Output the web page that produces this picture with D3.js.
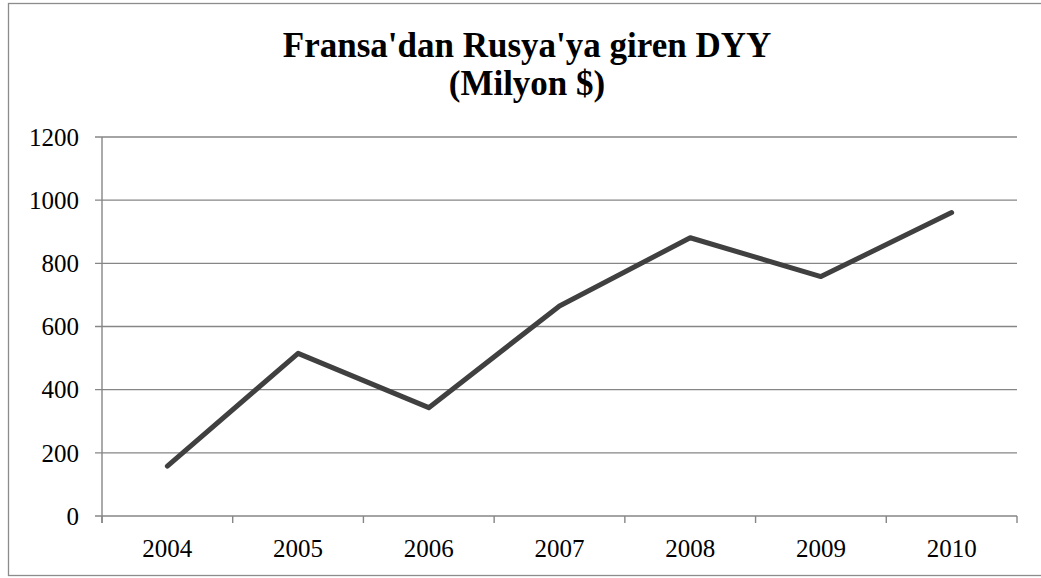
<!DOCTYPE html>
<html lang="tr">
<head>
  <meta charset="UTF-8">
  <title>Fransa'dan Rusya'ya giren DYY</title>
  <script src="https://d3js.org/d3.v7.min.js"></script>
  <style>
    body { margin: 0; background: #fff; overflow: hidden; }
    svg { display: block; }
  </style>
</head>
<body>
<svg width="1041" height="578"></svg>
<script>
const years = ['2004', '2005', '2006', '2007', '2008', '2009', '2010'];
const values = [158, 515, 343, 665, 881, 758, 961];
const yTicks = [0, 200, 400, 600, 800, 1000, 1200];
const titleLines = ["Fransa'dan Rusya'ya giren DYY", '(Milyon $)'];

const FONT = "'Liberation Serif', 'Times New Roman', Times, serif";
const plot = { left: 102, right: 1017, top: 137, bottom: 516 };

const svg = d3.select('svg');

// chart frame
svg.append('rect')
  .attr('x', 8.5).attr('y', 3.5)
  .attr('width', 1045).attr('height', 572)
  .attr('fill', '#fff')
  .attr('stroke', '#8c8c8c')
  .attr('stroke-width', 1.3);

const x = d3.scaleBand().domain(years).range([plot.left, plot.right]);
const y = d3.scaleLinear().domain([0, 1200]).range([plot.bottom, plot.top]);

// gridlines
svg.append('g')
  .selectAll('line')
  .data(yTicks)
  .enter().append('line')
  .attr('x1', plot.left - 7).attr('x2', plot.right)
  .attr('y1', d => y(d)).attr('y2', d => y(d))
  .attr('stroke', '#868686')
  .attr('stroke-width', 1.4);

// y axis line
svg.append('line')
  .attr('x1', plot.left).attr('x2', plot.left)
  .attr('y1', plot.top).attr('y2', plot.bottom + 7)
  .attr('stroke', '#868686').attr('stroke-width', 1.4);

// y labels
svg.append('g')
  .selectAll('text')
  .data(yTicks)
  .enter().append('text')
  .attr('x', plot.left - 23)
  .attr('y', d => y(d))
  .attr('dy', '0.35em')
  .attr('text-anchor', 'end')
  .attr('font-family', FONT)
  .attr('font-size', 25)
  .text(d => d);

// x ticks between categories
const edges = years.map(d => x(d)).concat([plot.right]);
svg.append('g')
  .selectAll('line')
  .data(edges)
  .enter().append('line')
  .attr('x1', d => d).attr('x2', d => d)
  .attr('y1', plot.bottom).attr('y2', plot.bottom + 7)
  .attr('stroke', '#868686').attr('stroke-width', 1.4);

// x labels
svg.append('g')
  .selectAll('text')
  .data(years)
  .enter().append('text')
  .attr('x', d => x(d) + x.bandwidth() / 2)
  .attr('y', 557)
  .attr('text-anchor', 'middle')
  .attr('font-family', FONT)
  .attr('font-size', 25)
  .text(d => d);

// the series line
const line = d3.line()
  .x((d, i) => x(years[i]) + x.bandwidth() / 2)
  .y(d => y(d));

svg.append('path')
  .datum(values)
  .attr('d', line)
  .attr('fill', 'none')
  .attr('stroke', '#404040')
  .attr('stroke-width', 5)
  .attr('stroke-linejoin', 'round')
  .attr('stroke-linecap', 'round');

// title
svg.append('g')
  .selectAll('text')
  .data(titleLines)
  .enter().append('text')
  .attr('x', 527)
  .attr('y', (d, i) => 57 + i * 38)
  .attr('text-anchor', 'middle')
  .attr('font-family', FONT)
  .attr('font-size', 35)
  .attr('font-weight', 'bold')
  .text(d => d);
</script>
</body>
</html>
